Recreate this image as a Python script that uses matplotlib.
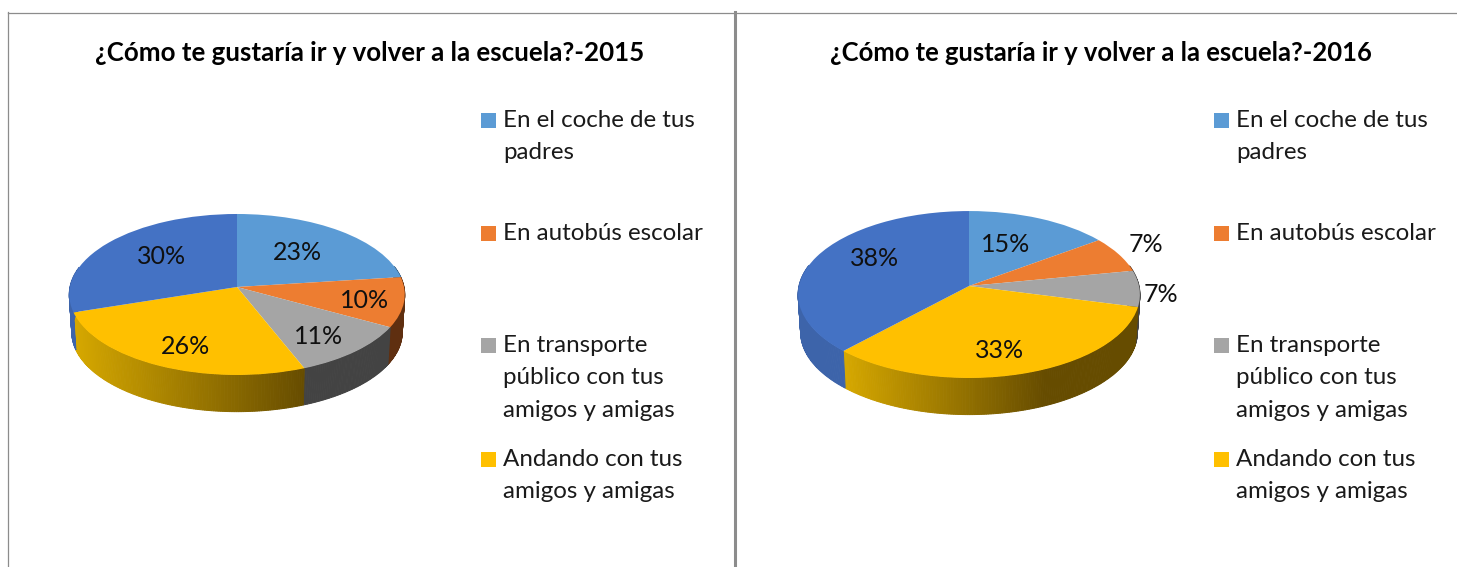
import numpy as np
import matplotlib
matplotlib.use("Agg")
import matplotlib.pyplot as plt
from matplotlib.colors import to_rgb
from matplotlib.patches import Rectangle
from matplotlib.transforms import Transform

W, H = 1457, 567

categories = ["En el coche de tus\npadres", "En autobús escolar",
              "En transporte\npúblico con tus\namigos y amigas",
              "Andando con tus\namigos y amigas", ""]
titles = ["¿Cómo te gustaría ir y volver a la escuela?-2015",
          "¿Cómo te gustaría ir y volver a la escuela?-2016"]
values_2015 = [23, 10, 11, 26, 30]
values_2016 = [15, 7, 7, 33, 38]
labels_2015 = ["23%", "10%", "11%", "26%", "30%"]
labels_2016 = ["15%", "7%", "7%", "33%", "38%"]
top_colors = ["#5B9BD5", "#ED7D31", "#A5A5A5", "#FFC000", "#4472C4"]
side_dark = ["#33587a", "#5f2f10", "#434343", "#664c00", "#3a5fa3"]

plt.rcParams['font.family'] = ['Lato', 'DejaVu Sans']


class Persp(Transform):
    """Tilted-disc projection of the unit pie into pixel coordinates."""
    input_dims = output_dims = 2
    is_separable = False

    def __init__(self, cx, cy, R, S, p, dy=0.0, k=1.0):
        super().__init__()
        self.a = (cx, cy, R, S, p, dy, k)

    def transform_non_affine(self, xy):
        cx, cy, R, S, p, dy, k = self.a
        xy = np.asarray(xy, float)
        w = 1 + p * xy[:, 1]
        return np.column_stack([cx + k * R * xy[:, 0] / w,
                                cy + dy - k * S * xy[:, 1] / w])


fig = plt.figure(figsize=(W / 100, H / 100), dpi=100, facecolor="white")
ax = fig.add_axes([0, 0, 1, 1])


def lerp(c1, c2, t):
    a, b = np.array(to_rgb(c1)), np.array(to_rgb(c2))
    return tuple(a + (b - a) * t)


def draw_pie(values, labels, geom, gx, label_xy):
    cx, cy, R, S, p = geom
    top = Persp(cx, cy, R, S, p)
    bot = Persp(cx, cy, R, S, p, dy=38, k=0.985)
    # side wall (front half of the rim only)
    edges = np.cumsum([0] + list(values)) / sum(values) * 2 * np.pi
    for i in range(len(values)):
        th = np.linspace(edges[i], edges[i + 1], max(int(values[i] * 5), 3))
        for a, b in zip(th[:-1], th[1:]):
            if np.cos(a) > 0.25 and np.cos(b) > 0.25:
                continue
            uv = np.array([[np.sin(a), np.cos(a)], [np.sin(b), np.cos(b)]])
            pt, pb = top.transform(uv), bot.transform(uv)
            poly = np.vstack([pt, pb[::-1]])
            if i == 3:
                t = np.clip((pt[:, 0].mean() - gx[0]) / (gx[1] - gx[0]), 0, 1)
                col = lerp("#d6a800", side_dark[3], t)
            elif i == 4:
                col = "#3d64aa"
            else:
                col = side_dark[i]
            ax.fill(poly[:, 0], poly[:, 1], color=col, lw=0.7, zorder=2)
    # top face
    ax.pie(values, colors=top_colors, startangle=90, counterclock=False,
           radius=1, wedgeprops=dict(transform=top + ax.transData,
                                     linewidth=0, zorder=3))
    for (x, y), s in zip(label_xy, labels):
        ax.text(x, y, s, fontsize=18, color="#101010", ha="center",
                va="center", zorder=5)


draw_pie(values_2015, labels_2015, (237, 287, 167, 79.8, 0.093), (73, 305),
         [(297, 252), (365, 300), (319, 336), (185, 346), (162, 257)])
draw_pie(values_2016, labels_2016, (969, 286, 170, 82.6, 0.102), (843, 1045),
         [(1006, 244), (1146, 244), (1161, 294), (1000, 350), (875, 258)])

ax.set_aspect("auto")
ax.set_xlim(0, W)
ax.set_ylim(H, 0)
ax.set_frame_on(False)
ax.set_xticks([])
ax.set_yticks([])

# frame lines
ax.plot([8, W], [12.5, 12.5], color="#8c8c8c", lw=0.9, zorder=1)
ax.plot([8, 8], [12, H], color="#8c8c8c", lw=0.9, zorder=1)
ax.plot([734.5, 734.5], [12, H], color="#8c8c8c", lw=2.2, zorder=1)

for x0, title, fs in zip((369.5, 1100.5), titles, (18.65, 18.45)):
    ax.text(x0, 53, title, fontsize=fs, fontweight="bold", color="#000000",
            ha="center", va="center")

legend_rows = [120.5, 233, 345.5, 459]
for x_sq, x_tx in ((481, 503), (1214, 1236)):
    for y, lab, c in zip(legend_rows, categories, top_colors):
        ax.add_patch(Rectangle((x_sq, y - 7.5), 15, 15, color=c, lw=0, zorder=4))
        for j, line in enumerate(lab.split("\n")):
            ax.text(x_tx, y + 6.5 + j * 32.4, line, fontsize=17.4,
                    color="#1a1a1a", ha="left", va="baseline")

fig.savefig("out.png", dpi=100, facecolor="white")
